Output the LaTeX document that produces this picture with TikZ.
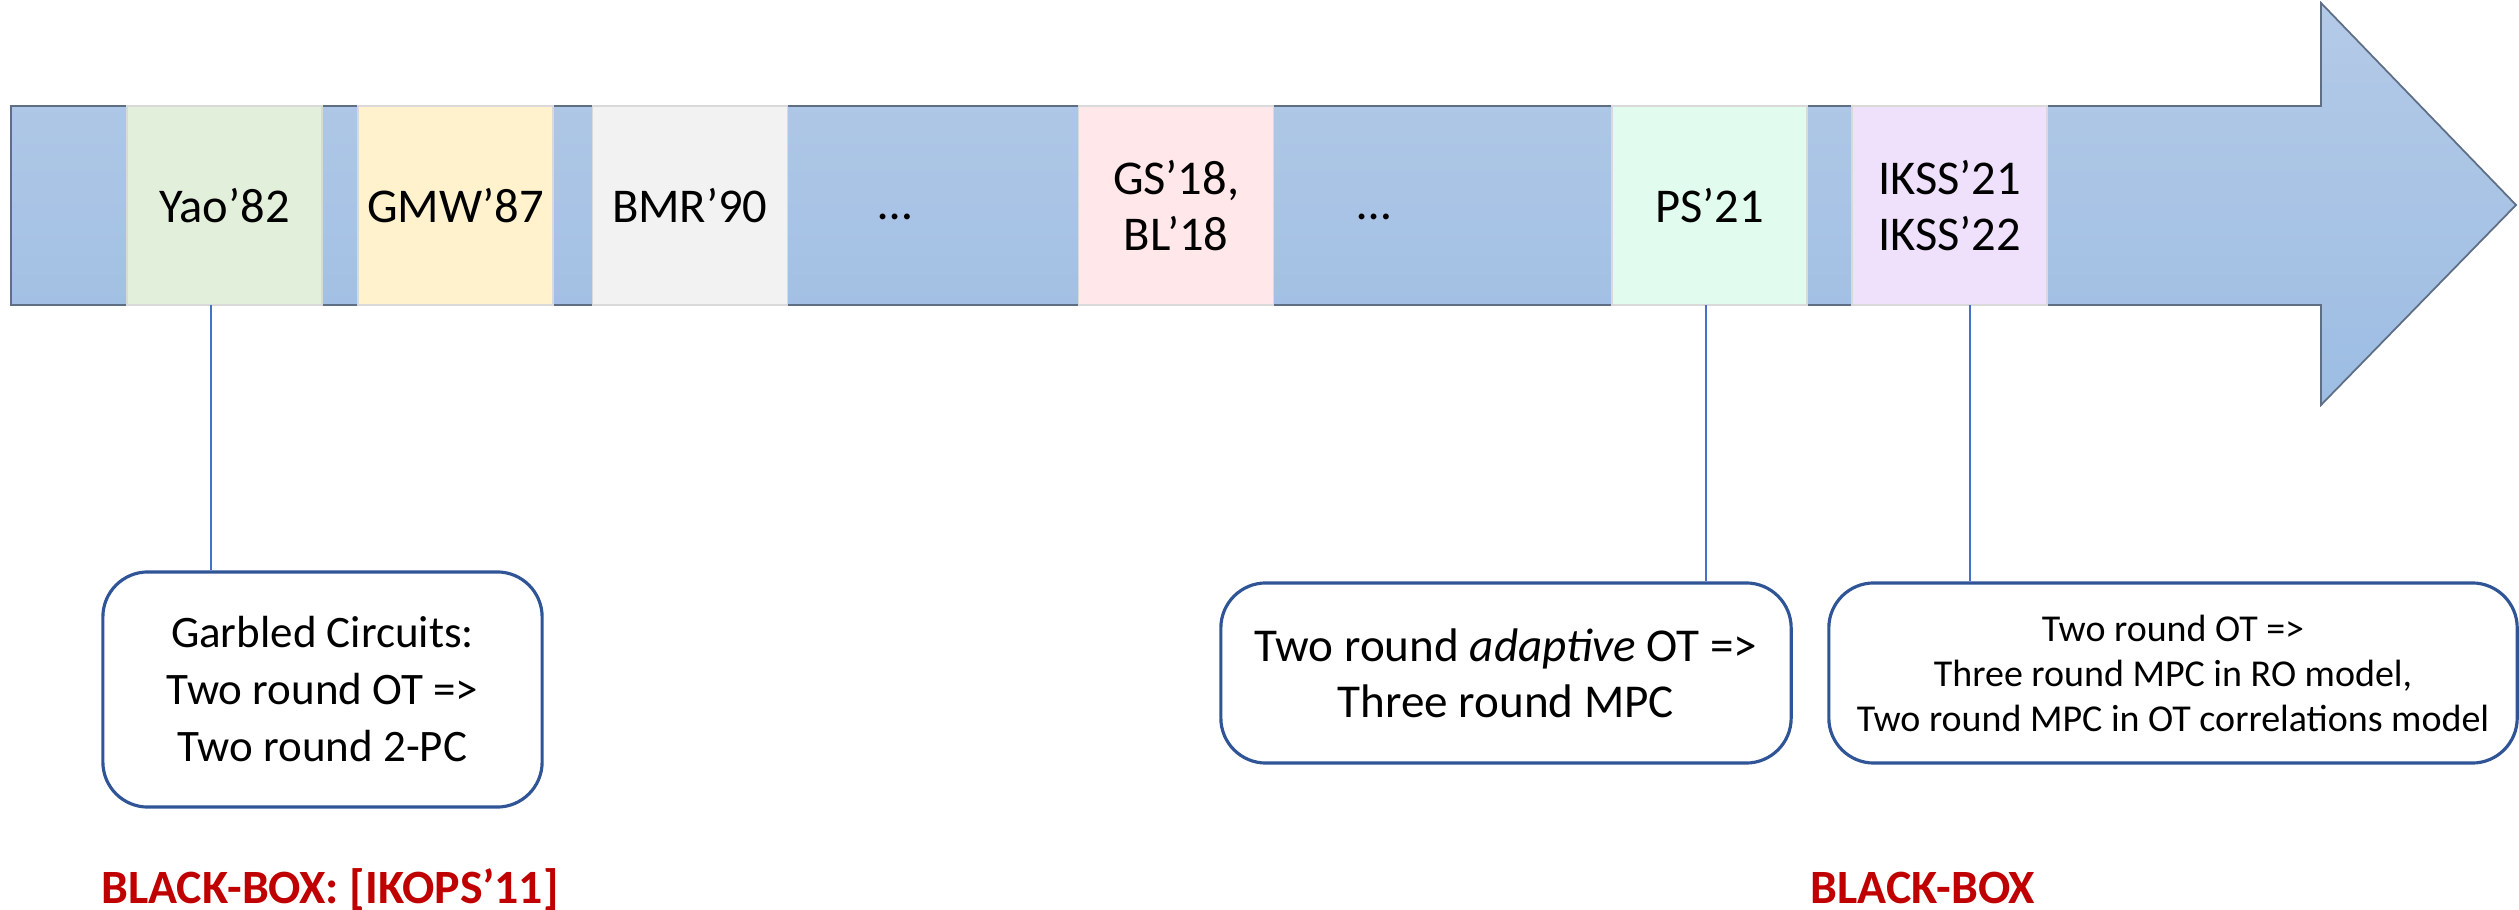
\documentclass[tikz,border=0pt]{standalone}
\usepackage{fontspec}
\setmainfont{Carlito}
\usepackage{xcolor}
\usetikzlibrary{positioning}

\definecolor{arrowtop}{HTML}{B4CAE7}
\definecolor{arrowbottom}{HTML}{9DBDE3}
\definecolor{arrowline}{HTML}{5E6E85}
\definecolor{yaogreen}{HTML}{E2EFDA}
\definecolor{gmwyellow}{HTML}{FFF2CC}
\definecolor{bmrgray}{HTML}{F2F2F2}
\definecolor{gspink}{HTML}{FFE7EA}
\definecolor{psmint}{HTML}{E1FCEE}
\definecolor{iksslilac}{HTML}{EFE1FB}
\definecolor{noteblue}{HTML}{2F5597}
\definecolor{linkblue}{HTML}{4472C4}
\definecolor{bbred}{HTML}{C00000}

\begin{document}
\begin{tikzpicture}
		[x=0.01cm,y=-0.01cm,
		era/.style={rectangle,draw=black!15,line width=0.4pt,inner sep=0pt,outer sep=0pt,minimum width=1.95cm,minimum height=1.99cm,align=center,font=\fontsize{13.8}{16}\selectfont},
		note/.style={rectangle,rounded corners=0.45cm,draw=noteblue,line width=0.9pt,fill=white,inner sep=0pt,align=center},
		link/.style={draw=linkblue,line width=0.45pt},
		blackbox/.style={text=bbred,anchor=base,inner sep=0pt,font=\fontsize{13.6}{15}\selectfont\bfseries}]
		\useasboundingbox (0,0) rectangle (2519,910);

		% time line
		\path [draw=arrowline,line width=0.5pt,top color=arrowtop,bottom color=arrowbottom]
			(11,106) -- (2321,106) -- (2321,3) -- (2516,205) -- (2321,405) -- (2321,305) -- (11,305) -- cycle;

		\node [era,fill=yaogreen] (yao) at (224.5,205.5) {Yao’82};
		\node [era,fill=gmwyellow] (gmw) [right=0.36cm of yao] {GMW’87};
		\node [era,fill=bmrgray] (bmr) [right=0.39cm of gmw] {BMR’90};
		\node [era,fill=gspink] (gs) [right=2.91cm of bmr] {GS’18,\\BL’18};
		\node [era,fill=psmint] (ps) [right=3.38cm of gs] {PS’21};
		\node [era,fill=iksslilac] (ikss) [right=0.45cm of ps] {IKSS’21\\IKSS’22};

		\node [anchor=base,inner sep=0pt,font=\fontsize{13.8}{16}\selectfont] (gapa) at (895,220) {…};
		\node [anchor=base,inner sep=0pt,font=\fontsize{13.8}{16}\selectfont] (gapb) at (1374,220) {…};

		% results
		\node [note,minimum width=4.39cm,minimum height=2.35cm,font=\fontsize{12.8}{16.2}\selectfont] (garbled) at (322.5,689.5)
			{Garbled Circuits:\\Two round OT =>\\Two round 2-PC};
		\node [note,minimum width=5.70cm,minimum height=1.80cm,font=\fontsize{13.4}{16}\selectfont] (adaptive) at (1506,673)
			{Two round \textit{adaptive} OT =>\\Three round MPC};
		\node [note,minimum width=6.88cm,minimum height=1.80cm,font=\fontsize{10.8}{12.8}\selectfont] (corr) at (2173,673)
			{Two round OT =>\\Three round MPC in RO model,\\Two round MPC in OT correlations model};

		\coordinate (yaofoot) at ([xshift=-0.135cm]yao.south);
		\coordinate (psfoot) at ([xshift=-0.035cm]ps.south);
		\coordinate (isksfoot) at ([xshift=0.205cm]ikss.south);
		\draw [link] (yaofoot) -- (yaofoot |- garbled.north);
		\draw [link] (psfoot) -- (psfoot |- adaptive.north);
		\draw [link] (isksfoot) -- (isksfoot |- corr.north);

		\node [blackbox] (bbleft) at (330,903) {BLACK-BOX: [IKOPS’11]};
		\node [blackbox] (bbright) at (1923,903) {BLACK-BOX};

	\end{tikzpicture}
\end{document}
